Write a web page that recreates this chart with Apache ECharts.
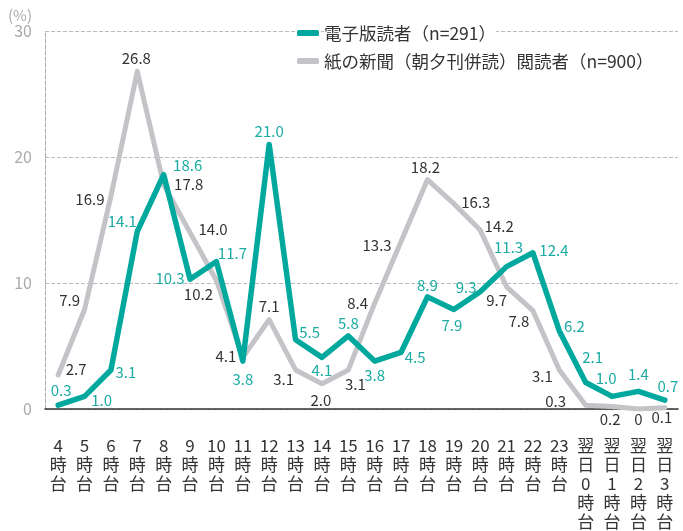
<!DOCTYPE html>
<html>
<head>
<meta charset="utf-8">
<script src="https://cdn.jsdelivr.net/npm/echarts@6/dist/echarts.min.js"></script>
<style>html,body{margin:0;padding:0;background:#fff;}#c{width:683px;height:531px;}</style>
</head>
<body>
<div id="c"></div>
<script>
const categories = ['4時台','5時台','6時台','7時台','8時台','9時台','10時台','11時台','12時台','13時台','14時台','15時台','16時台','17時台','18時台','19時台','20時台','21時台','22時台','23時台','翌日0時台','翌日1時台','翌日2時台','翌日3時台'];
const digitalName = '電子版読者（n=291）';
const paperName = '紙の新聞（朝夕刊併読）閲読者（n=900）';
const digitalValues = [0.3,1.0,3.1,14.1,18.6,10.3,11.7,3.8,21.0,5.5,4.1,5.8,3.8,4.5,8.9,7.9,9.3,11.3,12.4,6.2,2.1,1.0,1.4,0.7];
const paperValues = [2.7,7.9,16.9,26.8,17.8,14.0,10.2,4.1,7.1,3.1,2.0,3.1,8.4,13.3,18.2,16.3,14.2,9.7,7.8,3.1,0.3,0.2,0,0.1];
const yTicks = [0,10,20,30];

// label offsets (style only), relative to each point
const digitalLabelOffsets = [[3,-15],[17,4],[15,2],[-15,-10],[24,-9],[-20,-1],[16,-8],[0,18],[0,-13],[14,-7],[0,13],[0,-13],[0,14],[14,5],[0,-12],[-2,16],[-14,-5],[2,-19],[21,-2],[15,-5],[7,-25],[-6,-18],[0,-17],[3,-14]];
const paperLabelOffsets = [[18,-6],[-15,-9],[-21,3],[-1,-13],[25,0],[23,-3],[-18,14],[-17,-1],[0,-13],[-12,9],[-1,16],[7,14],[-17,0],[-24,4],[-2,-12],[22,-1],[19,-4],[-10,14],[-14,11],[-17,6],[-30,-4],[-2,13],[0,10],[-3,10]];

const TEAL = '#00A89E';
const GRAY = '#C4C4C8';
const FONT = 'Noto Sans CJK JP';

function build(values, offsets) {
  return values.map((v, i) => ({ value: v, label: { offset: offsets[i] } }));
}
const fmt = p => (p.value === 0 ? '0' : Number(p.value).toFixed(1));

const chart = echarts.init(document.getElementById('c'), null, { renderer: 'canvas' });
chart.setOption({
  animation: false,
  textStyle: { fontFamily: FONT },
  grid: { left: 45, right: 5, top: 31, bottom: 120, containLabel: false },
  legend: {
    data: [digitalName, paperName],
    orient: 'vertical',
    left: 297,
    top: 23,
    padding: 0,
    itemGap: 8,
    itemWidth: 22,
    itemHeight: 6,
    icon: 'roundRect',
    textStyle: { fontFamily: FONT, fontSize: 17.5, color: '#333', lineHeight: 20, backgroundColor: '#fff' }
  },
  xAxis: {
    type: 'category',
    data: categories,
    boundaryGap: true,
    axisLine: { lineStyle: { color: '#333', width: 1.5 } },
    axisTick: { show: false },
    axisLabel: {
      interval: 0,
      margin: 27,
      fontSize: 17,
      lineHeight: 19,
      color: '#333',
      fontFamily: FONT,
      formatter: v => v.match(/\d+|./g).join('\n')
    }
  },
  yAxis: {
    type: 'value',
    min: yTicks[0],
    max: yTicks[yTicks.length - 1],
    interval: 10,
    name: '(%)',
    nameLocation: 'end',
    nameGap: 11,
    nameTextStyle: { color: '#aaa', fontSize: 15, align: 'right', verticalAlign: 'middle', padding: [0, 13, 0, 0], fontFamily: FONT },
    axisLine: { show: true, lineStyle: { color: '#aaa', type: 'dashed', width: 1 } },
    axisTick: { show: false },
    axisLabel: { color: '#aaa', fontSize: 16, margin: 13, fontFamily: FONT },
    splitLine: { show: true, lineStyle: { color: '#bbb', type: 'dashed', width: 1 } }
  },
  series: [
    {
      name: paperName,
      type: 'line',
      data: build(paperValues, paperLabelOffsets),
      symbol: 'circle',
      symbolSize: 2,
      itemStyle: { color: GRAY },
      lineStyle: { color: GRAY, width: 5, join: 'round', cap: 'round' },
      label: { show: true, position: 'inside', color: '#333', fontSize: 15, fontFamily: FONT, formatter: fmt },
      z: 2
    },
    {
      name: digitalName,
      type: 'line',
      data: build(digitalValues, digitalLabelOffsets),
      symbol: 'circle',
      symbolSize: 2,
      itemStyle: { color: TEAL },
      lineStyle: { color: TEAL, width: 5.5, join: 'round', cap: 'round' },
      label: { show: true, position: 'inside', color: '#1BABA4', fontSize: 15, fontFamily: FONT, formatter: fmt },
      z: 3
    }
  ]
});
</script>
</body>
</html>
